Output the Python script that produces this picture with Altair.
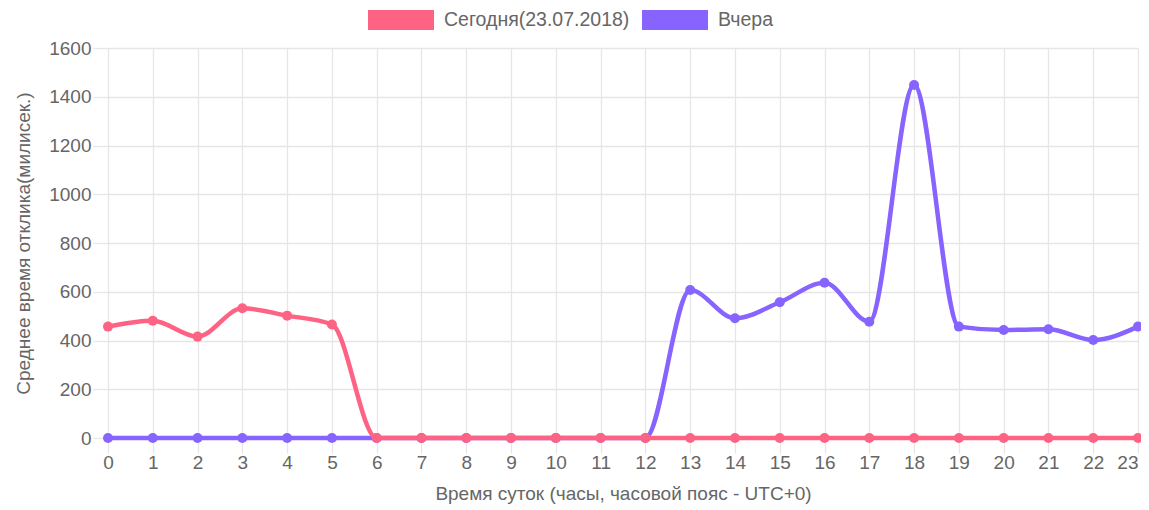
import altair as alt
import pandas as pd

hours = list(range(24))
today_label = "Сегодня(23.07.2018)"
yest_label = "Вчера"
today_vals = [457, 481, 416, 532, 502, 466, 0, 0, 0, 0, 0, 0,
              0, 0, 0, 0, 0, 0, 0, 0, 0, 0, 0, 0]
yest_vals = [0, 0, 0, 0, 0, 0, 0, 0, 0, 0, 0, 0,
             0, 607, 491, 557, 637, 477, 1448, 457, 443, 446, 402, 457]
y_ticks = [0, 200, 400, 600, 800, 1000, 1200, 1400, 1600]

RED = "#ff6384"
PURPLE = "#8763ff"
FONT = "Liberation Sans"
FS = 19

df_today = pd.DataFrame({"hour": hours, "value": today_vals, "series": today_label})
df_yest = pd.DataFrame({"hour": hours, "value": yest_vals, "series": yest_label})

color = alt.Color(
    "series:N",
    scale=alt.Scale(domain=[today_label, yest_label], range=[RED, PURPLE]),
    legend=alt.Legend(
        title=None,
        orient="none",
        direction="horizontal",
        legendX=283,
        legendY=-38,
        symbolType="M-3.3,-1H3.3V1H-3.3Z",
        symbolSize=400,
        symbolStrokeWidth=0,
        symbolOpacity=1,
        labelOffset=33,
        columnPadding=12,
        labelFont=FONT,
        labelFontSize=19.5,
        labelColor="#666666",
        labelLimit=0,
        padding=0,
    ),
)

x = alt.X(
    "hour:Q",
    scale=alt.Scale(domain=[0, 23], nice=False, zero=False),
    axis=alt.Axis(
        values=hours,
        format="d",
        title="Время суток (часы, часовой пояс - UTC+0)",
        tickSize=15,
        labelPadding=0,
        labelFlush=False,
        labelAlign=alt.ConditionalAxisLabelAlign(
            condition={"test": "datum.value == 23", "value": "right"},
            value="center",
        ),
        titlePadding=12,
        domain=False,
    ),
)
y = alt.Y(
    "value:Q",
    scale=alt.Scale(domain=[0, 1600], nice=False),
    axis=alt.Axis(
        values=y_ticks,
        format="d",
        title="Среднее время отклика(милисек.)",
        tickSize=15,
        labelPadding=2,
        labelFlush=False,
        titlePadding=15,
        domain=False,
    ),
)

def series_layers(df):
    base = alt.Chart(df).encode(x=x, y=y, color=color)
    line = base.mark_line(interpolate="monotone", strokeWidth=4.5)
    pts = base.mark_point(filled=True, size=100, opacity=1, shape="circle")
    return [line, pts]

chart = alt.layer(*series_layers(df_yest), *series_layers(df_today)).properties(
    width=1030,
    height=390,
    autosize=alt.AutoSizeParams(type="none"),
    padding={"left": 100, "top": 40, "right": 3, "bottom": 67},
).configure_axis(
    labelFont=FONT,
    labelFontSize=FS,
    labelColor="#666666",
    titleFont=FONT,
    titleFontSize=FS,
    titleFontWeight="normal",
    titleColor="#666666",
    gridColor="#e6e6e6",
    gridWidth=1.3,
    tickColor="#e6e6e6",
    tickWidth=1.3,
).configure_view(stroke=None)

chart.save("out.html", embed_options={"renderer": "svg", "actions": False})
